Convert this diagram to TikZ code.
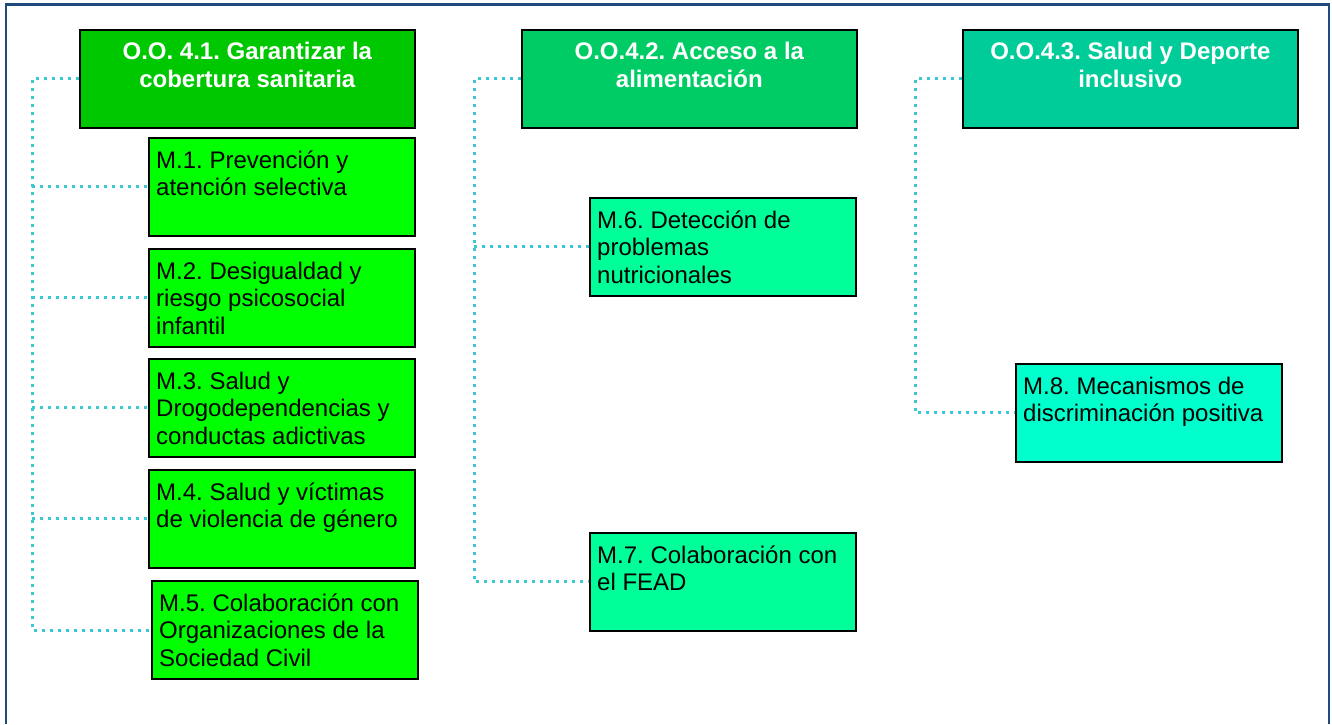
\documentclass[tikz,border=0pt]{standalone}
\usepackage{fontspec}
\setmainfont{Liberation Sans}
\frenchspacing
\definecolor{frameblue}{HTML}{1F4A7E}
\definecolor{dotc}{HTML}{3CC8D0}
\definecolor{ooa}{HTML}{00C800}
\definecolor{oob}{HTML}{00CC66}
\definecolor{ooc}{HTML}{00CC99}
\definecolor{ma}{HTML}{00FF00}
\definecolor{mb}{HTML}{00FF99}
\definecolor{mc}{HTML}{00FFCC}
\begin{document}
\begin{tikzpicture}[x=1pt,y=-1pt,
  boxst/.style={draw=black,line width=1.6pt,inner sep=0pt,anchor=north west},
  oobox/.style={boxst,minimum width=335pt,minimum height=98pt},
  mbox/.style={boxst,minimum width=266pt,minimum height=98pt},
  ootext/.style={anchor=north,inner sep=0pt,align=center,text=white,font=\fontsize{24}{28}\selectfont\bfseries},
  mtext/.style={anchor=north west,inner sep=0pt,align=left,text=black,font=\fontsize{24}{27.5}\selectfont},
  dotline/.style={draw=dotc,line width=3pt,dash pattern=on 3pt off 5pt}]
\useasboundingbox (0,0) rectangle (1332,724);
\fill[white] (0,0) rectangle (1332,724);
\draw[frameblue,line width=2.2pt] (6,724) -- (6,4.5) -- (1329,4.5) -- (1329,724);

% column 1
\node[oobox,fill=ooa] (oo1) at (79,29) {};
\node[mbox,fill=ma] (m1) at (148,137) {};
\node[mbox,fill=ma] (m2) at (148,248) {};
\node[mbox,fill=ma] (m3) at (148,358) {};
\node[mbox,fill=ma] (m4) at (148,469) {};
\node[mbox,fill=ma,line width=2pt] (m5) at (151,580) {};
% column 2
\node[oobox,fill=oob] (oo2) at (521,29) {};
\node[mbox,fill=mb] (m6) at (589,197) {};
\node[mbox,fill=mb] (m7) at (589,532) {};
% column 3
\node[oobox,fill=ooc] (oo3) at (962,29) {};
\node[mbox,fill=mc] (m8) at (1015,363) {};

% texts
\node[ootext] (oo1t) at ([yshift=-10.4pt]oo1.north) {\strut O.O. 4.1. Garantizar la\\cobertura sanitaria};
\node[ootext] (oo2t) at ([yshift=-10.4pt]oo2.north) {\strut O.O.4.2. Acceso a la\\alimentación};
\node[ootext] (oo3t) at ([yshift=-10.4pt]oo3.north) {\strut O.O.4.3. Salud y Deporte\\inclusivo};
\node[mtext] (m1t) at ([xshift=8pt,yshift=-11.8pt]m1.north west) {\strut M.1. Prevención y\\atención selectiva};
\node[mtext] (m2t) at ([xshift=8pt,yshift=-11.8pt]m2.north west) {\strut M.2. Desigualdad y\\riesgo psicosocial\\infantil};
\node[mtext] (m3t) at ([xshift=8pt,yshift=-11.8pt]m3.north west) {\strut M.3. Salud y\\Drogodependencias y\\conductas adictivas};
\node[mtext] (m4t) at ([xshift=8pt,yshift=-11.8pt]m4.north west) {\strut M.4. Salud y víctimas\\de violencia de género};
\node[mtext] (m5t) at ([xshift=8pt,yshift=-11.8pt]m5.north west) {\strut M.5. Colaboración con\\Organizaciones de la\\Sociedad Civil};
\node[mtext] (m6t) at ([xshift=8pt,yshift=-11.8pt]m6.north west) {\strut M.6. Detección de\\problemas\\nutricionales};
\node[mtext] (m7t) at ([xshift=8pt,yshift=-11.8pt]m7.north west) {\strut M.7. Colaboración con\\el FEAD};
\node[mtext] (m8t) at ([xshift=8pt,yshift=-11.8pt]m8.north west) {\strut M.8. Mecanismos de\\discriminación positiva};

% connectors
\coordinate (t1) at (32,0);
\coordinate (t2) at (474,0);
\coordinate (t3) at (915,0);
\draw[dotline] (oo1.west) -- (oo1.west -| t1) |- (m5.west);
\foreach \m in {m1,m2,m3,m4} \draw[dotline] (\m.west -| t1) -- (\m.west);
\draw[dotline] (oo2.west) -- (oo2.west -| t2) |- (m7.west);
\draw[dotline] (m6.west -| t2) -- (m6.west);
\draw[dotline] (oo3.west) -- (oo3.west -| t3) |- (m8.west);
\end{tikzpicture}
\end{document}
